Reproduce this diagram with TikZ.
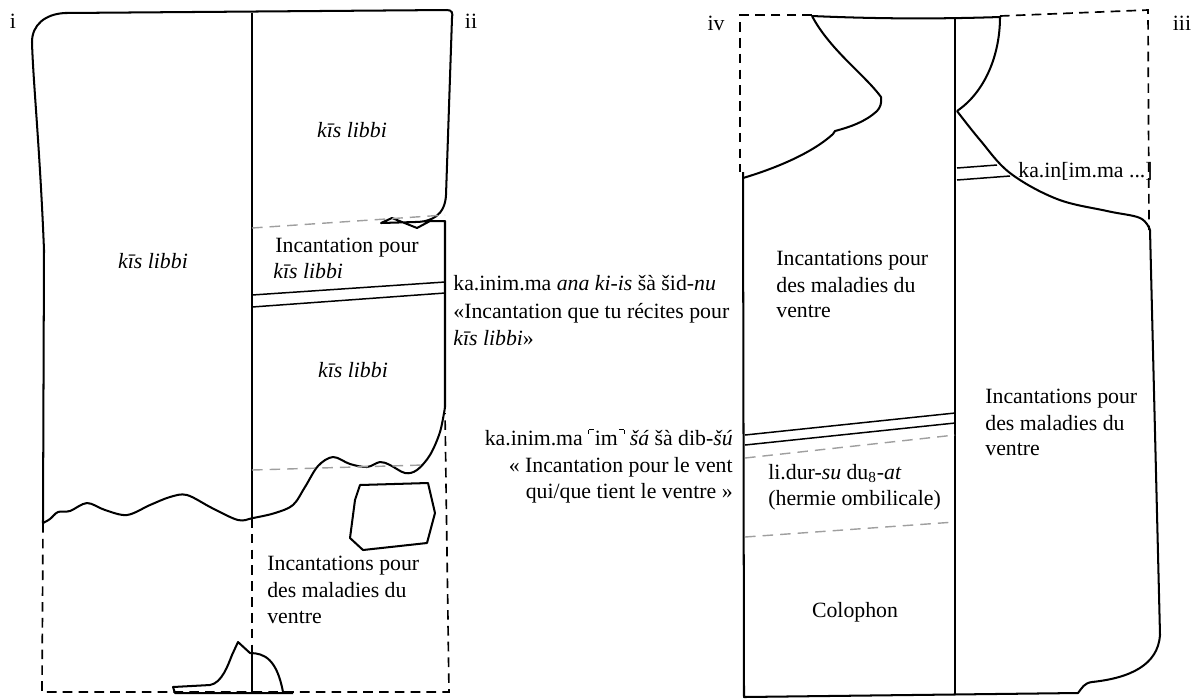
\documentclass[tikz,border=0pt]{standalone}
\usepackage{fontspec}
\setmainfont{Liberation Serif}
\newcommand{\hbl}{\makebox[.3em][l]{\rule[1.15ex]{.4pt}{.4ex}\rule[1.51ex]{.22em}{.4pt}}}
\newcommand{\hbr}{\makebox[.3em][r]{\rule[1.51ex]{.22em}{.4pt}\rule[1.15ex]{.4pt}{.4ex}}}
\begin{document}
\begin{tikzpicture}[x=0.02cm, y=-0.02cm,
    outline/.style={line width=1.15pt, line join=round},
    sep/.style={line width=.85pt},
    lost/.style={line width=.95pt, dash pattern=on 5.5pt off 3.5pt},
    ruling/.style={line width=.8pt, gray!75, dash pattern=on 6pt off 4pt},
    txt/.style={inner sep=0pt, font=\fontsize{12.4}{15}\selectfont}]
  \useasboundingbox (0,0) rectangle (1196,698);
  % tablet i / ii
  \draw [outline] (43,523) -- (44,250) .. controls (40,150) and (33,80) .. (32,42)
    .. controls (32,25) and (45,14) .. (65,13) -- (447,10)
    .. controls (452,10) and (453,13) .. (452,18) -- (446,195)
    .. controls (445,215) and (432,222) .. (415,222) -- (381,223) -- (392,218)
    -- (417,228) -- (430,221) -- (445,221) -- (445,407);
  \draw [outline] plot [smooth, tension=.55] coordinates {(445,407) (440,432) (430,455)
    (417,470) (405,473) (390,465) (380,462) (367,467) (350,464) (333,457) (318,466)
    (305,487) (293,505) (275,513) (253,518) (238,520) (212,508) (187,495) (170,497)
    (150,505) (127,515) (105,510) (87,503) (70,511) (58,512) (50,519) (43,523)};
  \draw [outline] (360,485) -- (428,483) -- (435,513) -- (427,543) -- (363,550)
    -- (350,538) -- (355,500) -- cycle;
  \draw [outline] (293,693) -- (175,693) -- (173,687) -- (210,685)
    .. controls (222,683) and (228,665) .. (232,655) -- (238,642) -- (250,653)
    .. controls (265,653) and (277,660) .. (283,692);
  \draw [sep] (252,13) -- (252,518);
  \draw [lost] (252,518) -- (252,647);
  \draw [sep] (252,647) -- (252,693);
  \draw [lost] (43,523) -- (42,692) -- (449,692) -- (445,413);
  \draw [sep] (252,295) -- (445,282);
  \draw [sep] (252,307) -- (445,293);
  \draw [ruling] (252,228) -- (445,215);
  \draw [ruling] (252,470) -- (423,465);
  % tablet iii / iv
  \draw [outline] (812,16) .. controls (880,19) and (940,19) .. (1000,17);
  \draw [outline] (812,16) .. controls (830,50) and (865,75) .. (881,97)
    .. controls (882,103) and (880,108) .. (877,111)
    .. controls (865,122) and (850,127) .. (835,131) -- (833,134)
    .. controls (810,155) and (770,170) .. (743,178);
  \draw [outline] (743,172) -- (744,697) -- (1078,693)
    .. controls (1082,688) and (1084,683) .. (1092,682)
    .. controls (1130,678) and (1158,665) .. (1160,635) -- (1150,230);
  \draw [outline] plot [smooth, tension=.6] coordinates {(1150,230) (1140,218) (1107,211)
    (1057,199) (1010,173) (980,140) (957,111)};
  \draw [outline] (957,111) .. controls (985,92) and (1000,55) .. (1000,17);
  \draw [sep] (955,19) -- (955,695);
  \draw [lost] (812,15) -- (740,15) -- (740,172);
  \draw [lost] (1000,16) -- (1148,10) -- (1149,230);
  \draw [sep] (957,168) -- (997,165);
  \draw [sep] (957,180) -- (1010,176);
  \draw [sep] (745,435) -- (955,413);
  \draw [sep] (745,445) -- (955,423);
  \draw [ruling] (745,458) -- (955,435);
  \draw [ruling] (745,537) -- (955,522);
  % labels
  \node [txt, anchor=base] (li) at (13,28) {i};
  \node [txt, anchor=base] (lii) at (471,28) {ii};
  \node [txt, anchor=base] (liv) at (716,30) {iv};
  \node [txt, anchor=base] (liii) at (1182,30) {iii};
  \node [txt, anchor=base] (kisA) at (153,268) {\textit{kīs libbi}};
  \node [txt, anchor=base] (kisB) at (352,137) {\textit{kīs libbi}};
  \node [txt, anchor=base west] (incA) at (275,252) {Incantation pour};
  \node [txt, anchor=base west] (incB) at (273,278) {\textit{kīs libbi}};
  \node [txt, anchor=base] (kisC) at (353,377) {\textit{kīs libbi}};
  \node [txt, anchor=base west] (malA) at (267,570) {Incantations pour};
  \node [txt, anchor=base west] (malB) at (267,597) {des maladies du};
  \node [txt, anchor=base west] (malC) at (267,623) {ventre};
  \node [txt, anchor=base west] (kaA) at (453,290) {ka.inim.ma \textit{ana ki-is} šà šid-\textit{nu}};
  \node [txt, anchor=base west] (kaB) at (453,318) {«Incantation que tu récites pour};
  \node [txt, anchor=base west] (kaC) at (453,345) {\textit{kīs libbi}»};
  \node [txt, anchor=base east] (imA) at (733,445) {ka.inim.ma \hbl im\hbr{} \textit{šá} šà dib-\textit{šú}};
  \node [txt, anchor=base east] (imB) at (733,472) {« Incantation pour le vent};
  \node [txt, anchor=base east] (imC) at (733,498) {qui/que tient le ventre »};
  \node [txt, anchor=base west] (kaD) at (1018,177) {ka.in[im.ma ...]};
  \node [txt, anchor=base west] (venA) at (776,265) {Incantations pour};
  \node [txt, anchor=base west] (venB) at (776,292) {des maladies du};
  \node [txt, anchor=base west] (venC) at (776,317) {ventre};
  \node [txt, anchor=base west] (venD) at (985,403) {Incantations pour};
  \node [txt, anchor=base west] (venE) at (985,430) {des maladies du};
  \node [txt, anchor=base west] (venF) at (985,455) {ventre};
  \node [txt, anchor=base west] (lidA) at (768,479) {li.dur-\textit{su} du\textsubscript{8}-\textit{at}};
  \node [txt, anchor=base west] (lidB) at (768,505) {(hermie ombilicale)};
  \node [txt, anchor=base] (colo) at (855,617) {Colophon};
\end{tikzpicture}
\end{document}
